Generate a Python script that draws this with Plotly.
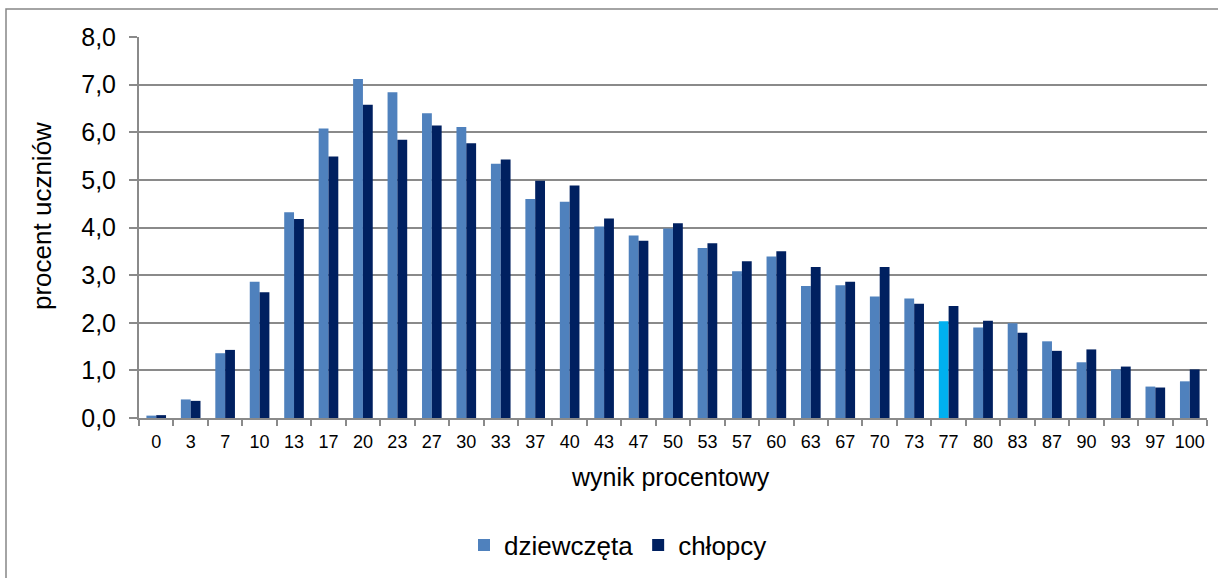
import plotly.graph_objects as go

categories = ["0","3","7","10","13","17","20","23","27","30","33","37","40","43","47","50",
              "53","57","60","63","67","70","73","77","80","83","87","90","93","97","100"]
dziewczeta = [0.05,0.39,1.36,2.86,4.32,6.08,7.12,6.84,6.40,6.11,5.34,4.60,4.54,4.02,3.83,3.98,
              3.57,3.08,3.39,2.77,2.79,2.55,2.51,2.03,1.90,1.99,1.61,1.17,1.02,0.66,0.77]
chlopcy = [0.06,0.36,1.43,2.64,4.18,5.49,6.58,5.84,6.14,5.77,5.43,4.98,4.88,4.19,3.72,4.09,
           3.67,3.29,3.50,3.17,2.86,3.17,2.40,2.35,2.04,1.79,1.41,1.44,1.08,0.64,1.02]
highlight_category = "77"

girls_color = "#4F81BD"
boys_color = "#002060"
highlight_color = "#00B0F0"
grid_color = "#8A8A8A"

girls_colors = [highlight_color if c == highlight_category else girls_color for c in categories]

fig = go.Figure()
fig.add_trace(go.Bar(x=categories, y=dziewczeta, name="dziewczęta",
                     marker=dict(color=girls_colors, line=dict(width=0))))
fig.add_trace(go.Bar(x=categories, y=chlopcy, name="chłopcy",
                     marker=dict(color=boys_color, line=dict(width=0))))

font_family = "Liberation Sans, Arial, sans-serif"

W, H = 1218, 578
L, R, T, B = 139, 11, 37, 160
pw, ph = W - L - R, H - T - B

def px_x(x):
    return (x - L) / pw

def px_y(y):
    return (H - B - y) / ph

fig.update_layout(
    width=W, height=H,
    margin=dict(l=L, r=R, t=T, b=B, autoexpand=False),
    paper_bgcolor="white", plot_bgcolor="white",
    separators=", ",
    barmode="group", bargap=0.43, bargroupgap=0,
    font=dict(family=font_family, color="black"),
    showlegend=True,
    legend=dict(orientation="h", x=px_x(618), xanchor="center", y=px_y(545), yanchor="middle",
                font=dict(size=26, family=font_family), itemwidth=30,
                traceorder="normal", bgcolor="rgba(0,0,0,0)"),
    xaxis=dict(
        type="category", tickson="boundaries", ticks="outside", ticklen=6,
        tickcolor=grid_color, tickwidth=2, tickangle=0, ticklabelstandoff=6,
        showline=True, linecolor=grid_color, linewidth=2,
        showgrid=False,
        tickfont=dict(size=18, family=font_family),
    ),
    yaxis=dict(
        range=[0, 8], dtick=1, tickformat=".1f",
        ticks="outside", ticklen=8, tickcolor=grid_color, tickwidth=2, ticklabelstandoff=8,
        showline=True, linecolor=grid_color, linewidth=2,
        showgrid=True, gridcolor=grid_color, gridwidth=2,
        zeroline=False,
        tickfont=dict(size=25, family=font_family),
    ),
)

# axis titles
fig.add_annotation(text="wynik procentowy", xref="paper", yref="paper",
                   x=px_x(670), y=px_y(477), xanchor="center", yanchor="middle",
                   showarrow=False, font=dict(size=25, family=font_family, color="black"))
fig.add_annotation(text="procent uczniów", xref="paper", yref="paper", textangle=-90,
                   x=px_x(42), y=px_y(216), xanchor="center", yanchor="middle",
                   showarrow=False, font=dict(size=26, family=font_family, color="black"))

# outer chart frame
fig.add_shape(type="rect", xref="paper", yref="paper",
              x0=px_x(6), x1=1.2, y0=-0.8, y1=px_y(9),
              line=dict(color="#868686", width=1.5), fillcolor="rgba(0,0,0,0)", layer="below")

# cut-off title at top
fig.add_annotation(text="<b>Wyniki dziewcząt i chłopców</b>", xref="paper", yref="paper",
                   x=px_x(7), xanchor="left", y=px_y(2.5), yanchor="bottom", showarrow=False,
                   font=dict(size=25, family=font_family, color="black"))

fig.write_html("out.html", config={"displayModeBar": False},
               post_script="document.body.style.margin='0';")
